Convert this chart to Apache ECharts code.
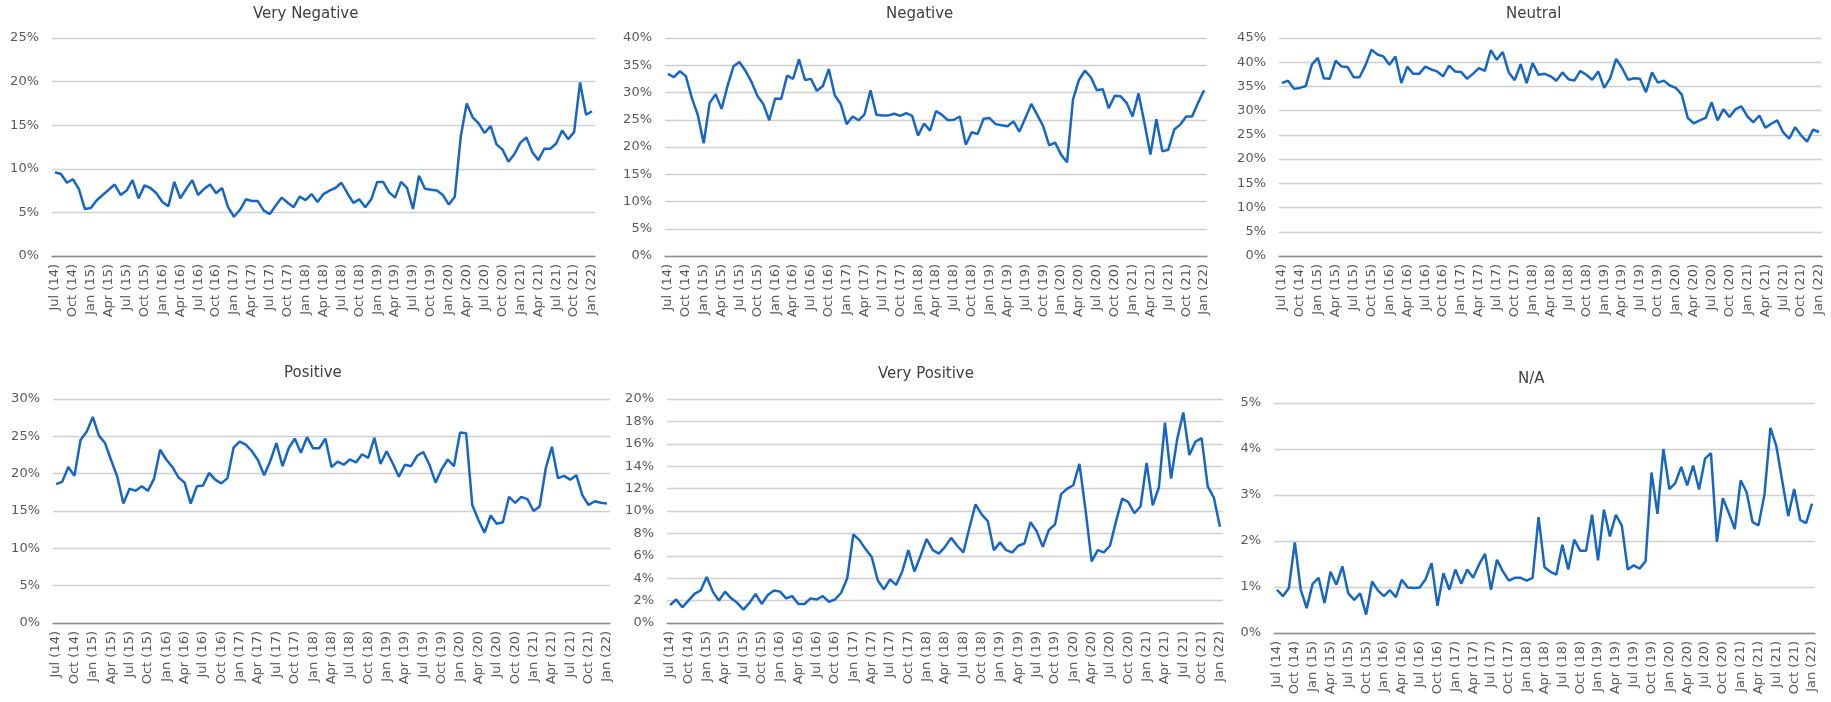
<!DOCTYPE html>
<html>
<head>
<meta charset="utf-8">
<script src="https://cdn.jsdelivr.net/npm/echarts@6/dist/echarts.min.js"></script>
<style>
html,body{margin:0;padding:0;background:#fff;}
#c{width:1831px;height:702px;}
</style>
</head>
<body>
<div id="c"></div>
<script>
const months = [
"Jul (14)","Aug (14)","Sep (14)","Oct (14)","Nov (14)","Dec (14)",
"Jan (15)","Feb (15)","Mar (15)","Apr (15)","May (15)","Jun (15)","Jul (15)","Aug (15)","Sep (15)","Oct (15)","Nov (15)","Dec (15)",
"Jan (16)","Feb (16)","Mar (16)","Apr (16)","May (16)","Jun (16)","Jul (16)","Aug (16)","Sep (16)","Oct (16)","Nov (16)","Dec (16)",
"Jan (17)","Feb (17)","Mar (17)","Apr (17)","May (17)","Jun (17)","Jul (17)","Aug (17)","Sep (17)","Oct (17)","Nov (17)","Dec (17)",
"Jan (18)","Feb (18)","Mar (18)","Apr (18)","May (18)","Jun (18)","Jul (18)","Aug (18)","Sep (18)","Oct (18)","Nov (18)","Dec (18)",
"Jan (19)","Feb (19)","Mar (19)","Apr (19)","May (19)","Jun (19)","Jul (19)","Aug (19)","Sep (19)","Oct (19)","Nov (19)","Dec (19)",
"Jan (20)","Feb (20)","Mar (20)","Apr (20)","May (20)","Jun (20)","Jul (20)","Aug (20)","Sep (20)","Oct (20)","Nov (20)","Dec (20)",
"Jan (21)","Feb (21)","Mar (21)","Apr (21)","May (21)","Jun (21)","Jul (21)","Aug (21)","Sep (21)","Oct (21)","Nov (21)","Dec (21)",
"Jan (22)"
];

const titles = ["Very Negative","Negative","Neutral","Positive","Very Positive","N/A"];

const veryNegative = [9.6,9.4,8.4,8.8,7.7,5.4,5.5,6.4,7.0,7.6,8.2,7.0,7.5,8.7,6.6,8.1,7.8,7.2,6.2,5.7,8.5,6.6,7.7,8.7,7.0,7.7,8.2,7.2,7.8,5.6,4.5,5.3,6.5,6.3,6.3,5.2,4.8,5.8,6.7,6.1,5.6,6.8,6.4,7.1,6.2,7.1,7.5,7.8,8.4,7.2,6.1,6.5,5.6,6.5,8.5,8.5,7.3,6.7,8.5,7.8,5.4,9.2,7.7,7.6,7.5,7.0,5.9,6.8,13.7,17.5,15.9,15.2,14.1,14.9,12.8,12.2,10.8,11.7,13.0,13.6,11.9,11.0,12.3,12.3,12.9,14.4,13.4,14.2,19.9,16.2,16.6];

const negative = [33.4,32.8,33.9,33.0,29.0,25.9,20.7,28.1,29.7,27.0,31.2,34.8,35.6,34.0,32.0,29.4,27.9,24.9,28.9,28.8,33.1,32.5,36.1,32.3,32.5,30.3,31.2,34.3,29.5,27.9,24.2,25.6,24.9,26.0,30.4,25.9,25.8,25.8,26.1,25.7,26.2,25.7,22.1,24.3,23.0,26.6,25.9,24.9,25.0,25.6,20.4,22.7,22.4,25.2,25.3,24.2,24.0,23.8,24.7,22.8,25.3,27.9,25.9,23.8,20.3,20.8,18.6,17.2,28.7,32.3,34.0,32.8,30.4,30.6,27.1,29.4,29.3,28.1,25.6,29.8,24.4,18.6,25.1,19.2,19.5,23.2,24.1,25.6,25.6,28.1,30.4];

const neutral = [35.7,36.2,34.5,34.7,35.1,39.5,40.9,36.7,36.6,40.3,39.1,39.0,36.9,36.9,39.4,42.6,41.6,41.2,39.5,41.2,35.7,39.1,37.6,37.6,39.1,38.5,38.1,37.1,39.3,38.1,38.0,36.6,37.6,38.8,38.2,42.5,40.5,42.1,37.9,36.3,39.6,35.7,39.8,37.4,37.6,37.1,36.2,37.9,36.5,36.2,38.2,37.4,36.4,38.1,34.7,36.7,40.7,38.8,36.4,36.7,36.6,33.8,37.9,35.8,36.2,35.2,34.7,33.3,28.5,27.4,28.0,28.5,31.7,28.0,30.3,28.7,30.3,30.9,28.8,27.6,29.0,26.5,27.3,28.0,25.5,24.2,26.6,24.9,23.6,26.1,25.6];

const positive = [18.6,18.9,20.9,19.7,24.5,25.6,27.6,25.1,24.1,21.8,19.6,16.0,18.0,17.7,18.3,17.7,19.3,23.2,21.9,20.9,19.5,18.8,16.0,18.3,18.4,20.1,19.2,18.7,19.4,23.5,24.3,23.9,23.0,21.8,19.8,21.7,24.1,21.0,23.4,24.7,22.8,24.9,23.4,23.4,24.7,20.9,21.6,21.2,21.9,21.5,22.6,22.1,24.8,21.3,23.0,21.4,19.6,21.2,21.0,22.4,22.9,21.2,18.8,20.6,21.9,21.0,25.5,25.4,15.8,13.8,12.1,14.4,13.3,13.5,16.9,16.1,16.9,16.6,15.0,15.6,20.7,23.6,19.4,19.7,19.2,19.8,17.1,15.8,16.3,16.1,16.0];

const veryPositive = [1.6,2.1,1.4,2.0,2.6,2.9,4.1,2.8,2.0,2.8,2.2,1.8,1.2,1.8,2.6,1.7,2.5,2.9,2.8,2.2,2.4,1.7,1.7,2.2,2.1,2.4,1.9,2.1,2.7,4.0,7.9,7.4,6.6,5.9,3.8,3.0,3.9,3.4,4.6,6.5,4.6,6.0,7.5,6.5,6.2,6.8,7.6,6.9,6.3,8.5,10.6,9.7,9.1,6.5,7.2,6.5,6.3,6.9,7.1,9.0,8.2,6.8,8.3,8.8,11.5,12.0,12.3,14.2,10.1,5.5,6.5,6.3,6.9,9.1,11.1,10.8,9.8,10.4,14.3,10.5,12.1,17.9,12.9,16.4,18.8,15.0,16.2,16.5,12.2,11.2,8.6];

const na = [0.94,0.80,0.98,1.97,0.94,0.54,1.07,1.20,0.65,1.33,1.05,1.45,0.86,0.72,0.86,0.40,1.12,0.92,0.80,0.93,0.78,1.16,0.99,0.98,0.99,1.17,1.52,0.59,1.30,0.94,1.38,1.07,1.38,1.20,1.49,1.72,0.94,1.59,1.34,1.14,1.20,1.20,1.14,1.20,2.52,1.43,1.33,1.27,1.92,1.38,2.03,1.79,1.79,2.57,1.58,2.68,2.10,2.57,2.34,1.38,1.47,1.40,1.56,3.49,2.59,4.00,3.13,3.26,3.61,3.21,3.64,3.12,3.79,3.91,1.98,2.93,2.61,2.26,3.32,3.06,2.41,2.34,3.01,4.46,4.06,3.30,2.54,3.13,2.46,2.39,2.81];

const yMax = [25, 40, 45, 30, 20, 5];
const yStep = [5, 5, 5, 5, 2, 1];
const seriesData = [veryNegative, negative, neutral, positive, veryPositive, na];

const grids = [
  {left: 52, top: 38, width: 543, height: 218},
  {left: 665, top: 38, width: 542, height: 218},
  {left: 1279, top: 38, width: 543, height: 218},
  {left: 53, top: 399, width: 557, height: 224},
  {left: 667, top: 399, width: 556, height: 224},
  {left: 1274, top: 403, width: 541, height: 230}
];
const titlePos = [
  {left: 253, top: 7},
  {left: 886, top: 7},
  {left: 1506, top: 7},
  {left: 284, top: 366},
  {left: 878, top: 367},
  {left: 1518, top: 372}
];

const FONT = "DejaVu Sans";
const option = {
  backgroundColor: '#ffffff',
  animation: false,
  title: titles.map((t, i) => ({
    text: t, left: titlePos[i].left, top: titlePos[i].top, padding: 0,
    textStyle: {fontFamily: FONT, fontSize: 15, fontWeight: 'normal', color: '#404040'}
  })),
  grid: grids.map(g => Object.assign({containLabel: false}, g)),
  xAxis: grids.map((g, i) => ({
    type: 'category', gridIndex: i, data: months, boundaryGap: true,
    axisTick: {show: false},
    axisLine: {show: true, lineStyle: {color: '#8c8c8c', width: 1.3}},
    axisLabel: {interval: 2, rotate: 90, margin: 8, fontFamily: FONT, fontSize: 13, color: '#595959'},
    splitLine: {show: false}
  })),
  yAxis: grids.map((g, i) => ({
    type: 'value', gridIndex: i, min: 0, max: yMax[i], interval: yStep[i],
    axisLine: {show: false}, axisTick: {show: false},
    axisLabel: {margin: 13, fontFamily: FONT, fontSize: 13, color: '#595959', formatter: v => v + '%'},
    splitLine: {show: true, lineStyle: {color: '#d0d0d0', width: 1.3}}
  })),
  series: seriesData.map((d, i) => ({
    type: 'line', xAxisIndex: i, yAxisIndex: i, data: d,
    symbol: 'none', smooth: false,
    lineStyle: {color: '#1766c2', width: 2.5}
  }))
};
const chart = echarts.init(document.getElementById('c'), null, {renderer: 'canvas'});
chart.setOption(option);
</script>
</body>
</html>
